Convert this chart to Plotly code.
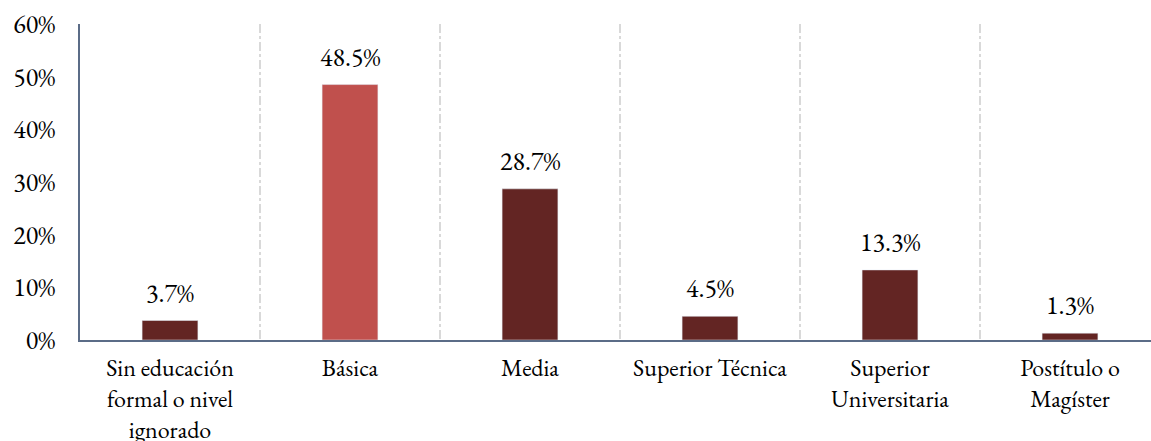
import plotly.graph_objects as go

categories = ["Sin educación<br>formal o nivel<br>ignorado", "Básica", "Media",
              "Superior Técnica", "Superior<br>Universitaria", "Postítulo o<br>Magíster"]
values = [3.7, 48.5, 28.7, 4.5, 13.3, 1.3]
labels = ["3.7%", "48.5%", "28.7%", "4.5%", "13.3%", "1.3%"]
colors = ["#632523", "#C0504D", "#632523", "#632523", "#632523", "#632523"]
ytickvals = [0, 10, 20, 30, 40, 50, 60]
yticktext = ["0%", "10%", "20%", "30%", "40%", "50%", "60%"]

FONT = "EB Garamond"

fig = go.Figure(go.Bar(
    x=categories, y=values, marker_color=colors, width=0.31,
))

for c, v, t in zip(categories, values, labels):
    fig.add_annotation(x=c, y=v, text=t, showarrow=False, yanchor="bottom",
                       yshift=9, font=dict(family=FONT, size=26, color="#000000"))

fig.update_layout(
    width=1151, height=441,
    margin=dict(l=80, r=0, t=24, b=101),
    paper_bgcolor="white", plot_bgcolor="white",
    showlegend=False,
    font=dict(family=FONT, size=24, color="#000000"),
    xaxis=dict(
        type="category", range=[-0.5, 5.45], automargin=False,
        tickson="boundaries", showgrid=True, griddash="dashdot",
        gridcolor="#D9D9D9", gridwidth=1.5,
        showline=True, linecolor="#5B6C87", linewidth=1.5,
        ticks="", ticklabelstandoff=5, tickfont=dict(family=FONT, size=24),
    ),
    yaxis=dict(
        range=[0, 60], tickvals=ytickvals, ticktext=yticktext, automargin=False,
        showgrid=False, zeroline=False,
        showline=True, linecolor="#5B6C87", linewidth=1.5,
        ticks="outside", ticklen=18, tickcolor="rgba(0,0,0,0)",
        tickfont=dict(family=FONT, size=26),
    ),
)

fig.write_html("out.html", post_script="document.body.style.margin='0';",
               config={"displayModeBar": False})
